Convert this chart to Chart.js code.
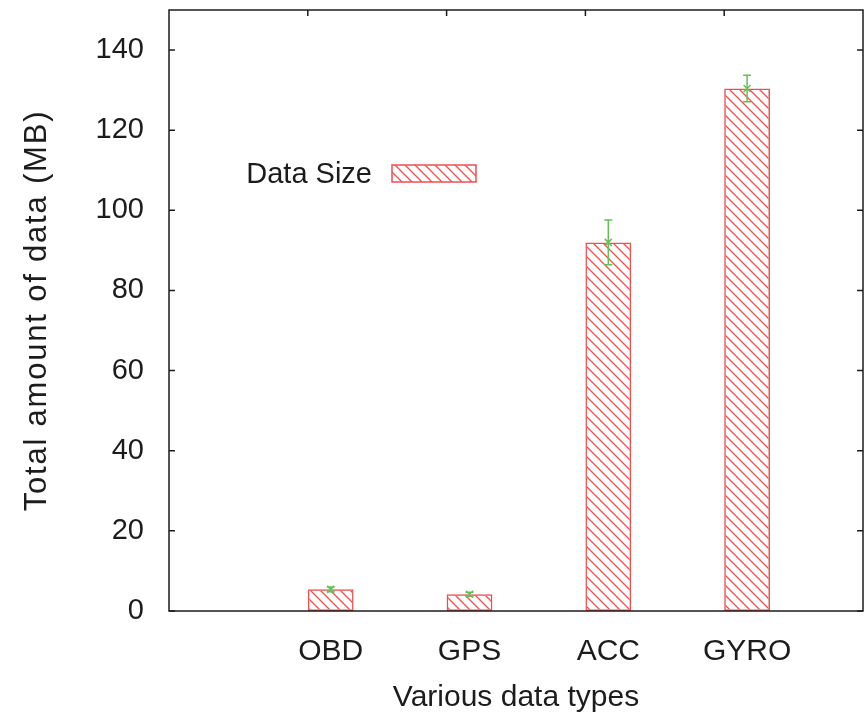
<!DOCTYPE html>
<html>
<head>
<meta charset="utf-8">
<script src="https://cdn.jsdelivr.net/npm/chart.js@4.4.0/dist/chart.umd.min.js"></script>
<style>
    html, body { margin: 0; padding: 0; background: #fff; }
    #wrap { width: 868px; height: 719px; }
</style>
</head>
<body>
<div id="wrap"><canvas id="sizeChart" width="868" height="719"></canvas></div>
<script>
// Data
const categories = ['OBD', 'GPS', 'ACC', 'GYRO'];
const dataSize = [5.4, 4.2, 92, 130.4];
const dataErr = [0.6, 0.5, 5.6, 3.3];
const yTicks = [0, 20, 40, 60, 80, 100, 120, 140];
const xTicks = [0, 1, 2, 3];
const yTitle = 'Total amount of data (MB)';

const RED = 'rgb(238, 80, 80)';
const GREEN = 'rgb(95, 195, 85)';
const INK = '#1c1c1c';
const FONT = '"Liberation Sans", Arial, sans-serif';
const barShift = 0.165; // bars sit just right of each x tic, like gnuplot

function makeHatch(color) {
    const c = document.createElement('canvas');
    c.width = 10;
    c.height = 10;
    const g = c.getContext('2d');
    g.strokeStyle = color;
    g.lineWidth = 1.3;
    g.beginPath();
    g.moveTo(-2, -2); g.lineTo(12, 12);
    g.moveTo(8, -2); g.lineTo(12, 2);
    g.moveTo(-2, 8); g.lineTo(2, 12);
    g.stroke();
    return g.createPattern(c, 'repeat');
}

// Frame with inward tick marks (gnuplot style)
const framePlugin = {
    id: 'frame',
    afterDatasetsDraw(chart) {
        const { ctx, chartArea: a, scales } = chart;
        ctx.save();
        ctx.strokeStyle = INK;
        ctx.lineWidth = 1.5;
        ctx.strokeRect(a.left, a.top, a.right - a.left, a.bottom - a.top);
        ctx.beginPath();
        yTicks.forEach(v => {
            const y = scales.y.getPixelForValue(v);
            ctx.moveTo(a.left, y); ctx.lineTo(a.left + 6, y);
            ctx.moveTo(a.right, y); ctx.lineTo(a.right - 6, y);
        });
        xTicks.forEach(v => {
            const x = scales.x.getPixelForValue(v);
            ctx.moveTo(x, a.top); ctx.lineTo(x, a.top + 6);
        });
        ctx.stroke();
        ctx.restore();
    }
};

// Error bars on top of the bars
const errorPlugin = {
    id: 'errbars',
    afterDatasetsDraw(chart) {
        const { ctx, scales } = chart;
        const meta = chart.getDatasetMeta(0);
        ctx.save();
        ctx.strokeStyle = GREEN;
        ctx.lineWidth = 1.5;
        meta.data.forEach((bar, i) => {
            const x = bar.x;
            const yHi = scales.y.getPixelForValue(dataSize[i] + dataErr[i]);
            const yLo = scales.y.getPixelForValue(dataSize[i] - dataErr[i]);
            const yMid = scales.y.getPixelForValue(dataSize[i]);
            ctx.beginPath();
            ctx.moveTo(x, yHi); ctx.lineTo(x, yLo);
            ctx.moveTo(x - 4, yHi); ctx.lineTo(x + 4, yHi);
            ctx.moveTo(x - 4, yLo); ctx.lineTo(x + 4, yLo);
            ctx.moveTo(x - 3.5, yMid - 3.5); ctx.lineTo(x + 3.5, yMid + 3.5);
            ctx.moveTo(x - 3.5, yMid + 3.5); ctx.lineTo(x + 3.5, yMid - 3.5);
            ctx.stroke();
        });
        ctx.restore();
    }
};

// Key box inside the plot: text then hatched sample
const keyPlugin = {
    id: 'key',
    afterDatasetsDraw(chart) {
        const { ctx, chartArea: a } = chart;
        const ds = chart.data.datasets[0];
        const bx = a.left + 223, by = a.top + 155, bw = 84, bh = 17;
        ctx.save();
        ctx.font = '29px ' + FONT;
        ctx.fillStyle = INK;
        ctx.textAlign = 'right';
        ctx.textBaseline = 'middle';
        ctx.fillText(ds.label, bx - 20, by + bh / 2 + 1);
        ctx.fillStyle = ds.backgroundColor;
        ctx.fillRect(bx, by, bw, bh);
        ctx.strokeStyle = RED;
        ctx.lineWidth = 1.5;
        ctx.strokeRect(bx, by, bw, bh);
        ctx.restore();
    }
};

// Rotated y title, spaced out a bit like the original
const yTitlePlugin = {
    id: 'ytitle',
    afterDraw(chart) {
        const { ctx, chartArea: a } = chart;
        ctx.save();
        ctx.translate(37, (a.top + a.bottom) / 2);
        ctx.rotate(-Math.PI / 2);
        ctx.font = '31px ' + FONT;
        ctx.letterSpacing = '1.8px';
        ctx.fillStyle = INK;
        ctx.textAlign = 'center';
        ctx.textBaseline = 'middle';
        ctx.fillText(yTitle, 0, 0);
        ctx.restore();
    }
};

function initChart() {
    const ctx = document.getElementById('sizeChart');
    const hatch = makeHatch(RED);

    new Chart(ctx, {
        type: 'bar',
        data: {
            datasets: [{
                label: 'Data Size',
                data: dataSize.map((v, i) => ({ x: i + barShift, y: v })),
                backgroundColor: hatch,
                borderColor: RED,
                borderWidth: 1.5,
                borderSkipped: false,
                categoryPercentage: 1,
                barPercentage: 0.33
            }]
        },
        options: {
            responsive: false,
            animation: false,
            layout: { padding: { top: 10, right: 5, left: 0, bottom: 0 } },
            plugins: {
                legend: { display: false },
                tooltip: { enabled: false }
            },
            scales: {
                x: {
                    type: 'linear',
                    min: -1,
                    max: 4,
                    offset: false,
                    grid: { display: false, drawTicks: false, offset: false },
                    border: { display: false },
                    afterBuildTicks(scale) {
                        scale.ticks = categories.map((c, i) => ({ value: i + barShift }));
                    },
                    afterFit(scale) {
                        scale.height = 108;
                        scale.paddingLeft = 0;
                        scale.paddingRight = 0;
                    },
                    ticks: {
                        autoSkip: false,
                        maxRotation: 0,
                        padding: 23,
                        color: INK,
                        font: { family: FONT, size: 30 },
                        callback: (v, i) => categories[i]
                    },
                    title: {
                        display: true,
                        text: 'Various data types',
                        color: INK,
                        font: { family: FONT, size: 30 },
                        padding: { top: 0, bottom: 3 }
                    }
                },
                y: {
                    min: 0,
                    max: 150,
                    grid: { display: false, drawTicks: false },
                    border: { display: false },
                    afterBuildTicks(scale) {
                        scale.ticks = yTicks.map(v => ({ value: v }));
                    },
                    afterFit(scale) {
                        scale.width = 169;
                        scale.paddingTop = 0;
                        scale.paddingBottom = 0;
                    },
                    ticks: {
                        padding: 25,
                        color: INK,
                        font: { family: FONT, size: 29 }
                    },
                    title: { display: false }
                }
            }
        },
        plugins: [framePlugin, errorPlugin, keyPlugin, yTitlePlugin]
    });
}

document.addEventListener('DOMContentLoaded', initChart);
</script>
</body>
</html>
